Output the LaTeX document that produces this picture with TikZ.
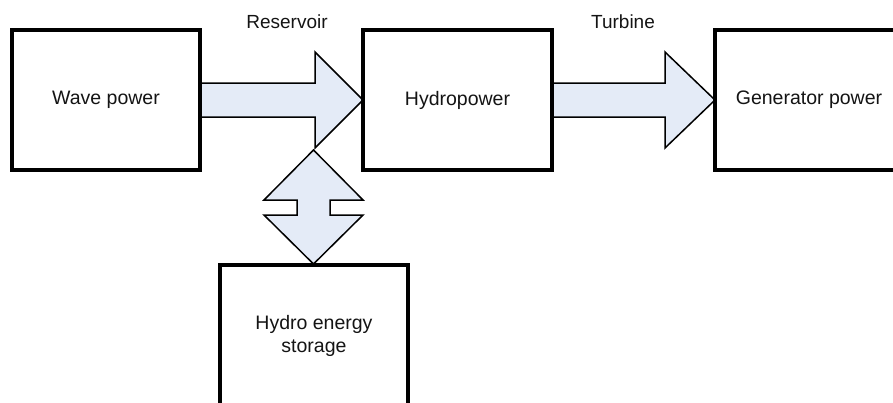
\documentclass[tikz,border=0pt]{standalone}
\usepackage{fontspec}
\setmainfont{Liberation Sans}
\usetikzlibrary{calc}
\definecolor{arrowfill}{RGB}{228,235,247}
\definecolor{txt}{RGB}{20,20,20}
\tikzset{
  blockbox/.style={draw=black, line width=4pt, rectangle, outer sep=0pt, fill=white,
    minimum width=188pt, minimum height=140pt, inner sep=0pt, align=center, text=txt,
    font=\fontsize{19.5}{23}\selectfont},
  fatarrow/.style={draw=black, line width=1.5pt, fill=arrowfill, line join=miter},
  lbl/.style={text=txt, font=\fontsize{19}{23}\selectfont, inner sep=0pt}
}
\begin{document}
\begin{tikzpicture}[x=1pt,y=-1pt]
\useasboundingbox (0,0) rectangle (893,402);
% arrows first (behind boxes)
\coordinate (wa) at (200,100);
\coordinate (ha) at (363,100);
\coordinate (hb) at (552,100);
\coordinate (ga) at (715,100);
\coordinate (dtop) at (313.5,150);
\coordinate (dbot) at (313.5,264);
% Reservoir arrow
\draw[fatarrow] ($(wa)+(-2,-17)$) -- (315,83) -- (315,52) -- (ha) -- (315,148) -- (315,117) -- ($(wa)+(-2,17)$);
% Turbine arrow
\draw[fatarrow] ($(hb)+(-2,-17)$) -- (665,83) -- (665,52) -- (ga) -- (665,148) -- (665,117) -- ($(hb)+(-2,17)$);
% double arrow
\draw[fatarrow] (dtop) -- (363,200) -- (330,200) -- (330,215) -- (363,215) -- (dbot)
  -- (264,215) -- (297,215) -- (297,200) -- (264,200) -- cycle;
% boxes
\node[blockbox] (wave) at (106,100) {Wave power};
\node[blockbox, minimum width=189pt] (hydro) at (457.5,100) {Hydropower};
\node[blockbox] (gen) at (809,100) {Generator power};
\node[blockbox, minimum height=142pt] (stor) at (314,336) {Hydro energy\\storage};
% labels
\node[lbl] (res) at (287,22) {Reservoir};
\node[lbl] (tur) at (623,22) {Turbine};
\end{tikzpicture}
\end{document}
